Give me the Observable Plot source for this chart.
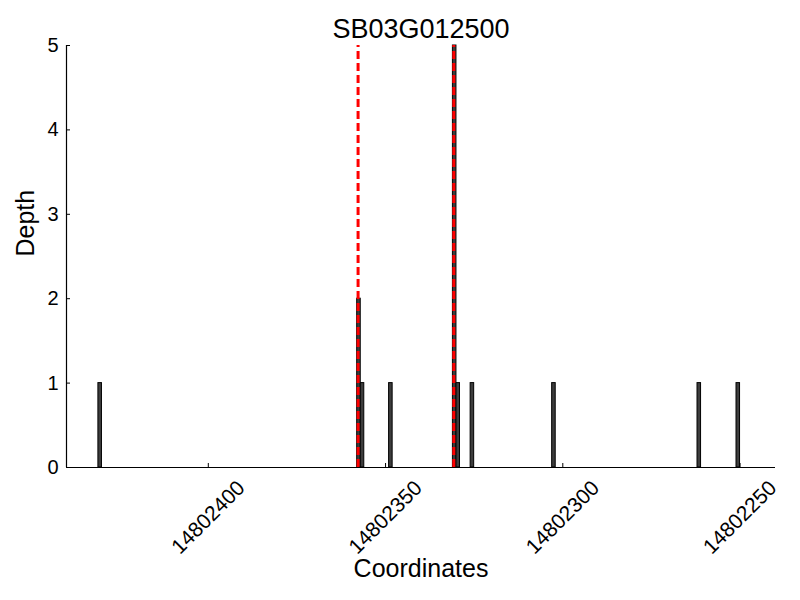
<!DOCTYPE html>
<html>
<head>
<meta charset="utf-8">
<script src="https://cdn.jsdelivr.net/npm/d3@7"></script>
<script src="https://cdn.jsdelivr.net/npm/@observablehq/plot@0.6"></script>
<style>
  html, body { margin: 0; padding: 0; background: #fff; }
  #chart svg { display: block; }
</style>
</head>
<body>
<div id="chart"></div>
<script>
// Data
const title = "SB03G012500";
const positions = [14802430, 14802357, 14802356, 14802348, 14802330, 14802329, 14802325, 14802302, 14802261, 14802250];
const depths    = [1, 2, 1, 1, 5, 1, 1, 1, 1, 1];
const geneBounds = [14802357.75, 14802330.75];
const xTicks = [14802400, 14802350, 14802300, 14802250];
const yTicks = [0, 1, 2, 3, 4, 5];
const xDomain = [14802440, 14802240];
const yDomain = [0, 5];

const bars = positions.map((p, i) => ({start: p, end: p + 1, depth: depths[i]}));
const font = "'Liberation Sans', Arial, Helvetica, sans-serif";

const chart = Plot.plot({
  width: 800,
  height: 600,
  marginLeft: 66,
  marginRight: 25,
  marginTop: 45,
  marginBottom: 133,
  style: {fontFamily: font, fontSize: "20px", color: "black", background: "white", overflow: "visible"},
  x: {domain: xDomain, ticks: xTicks},
  y: {domain: yDomain, ticks: yTicks},
  marks: [
    Plot.rectY(bars, {x1: "start", x2: "end", y: "depth", fill: "#3d3d3d", stroke: "black", strokeWidth: 1}),
    Plot.ruleX(geneBounds, {y1: yDomain[0], y2: yDomain[1], stroke: "red", strokeWidth: 3, strokeDasharray: "8,4"}),
    Plot.ruleY([yDomain[0]], {stroke: "black", strokeWidth: 1.2}),
    Plot.ruleX([xDomain[0]], {stroke: "black", strokeWidth: 1.2}),
    Plot.axisX(xTicks, {tickSize: -4, tickFormat: null, text: null, label: null}),
    Plot.axisY(yTicks, {tickSize: -4, tickFormat: null, text: null, label: null}),
    Plot.text(xTicks, {x: d => d, frameAnchor: "bottom", lineAnchor: "middle", rotate: -45, textAnchor: "end", dx: 33, dy: 17, fontSize: 21, text: d => String(d)}),
    Plot.axisY(yTicks, {tickSize: 0, tickPadding: 8, fontSize: 20, label: null, tickFormat: d => String(d)}),
    Plot.text([title], {frameAnchor: "top", lineAnchor: "middle", dy: -16, fontSize: 27, text: d => d}),
    Plot.text(["Coordinates"], {frameAnchor: "bottom", lineAnchor: "middle", dy: 101, fontSize: 25, text: d => d}),
    Plot.text(["Depth"], {frameAnchor: "left", dx: -41, rotate: -90, fontSize: 25, text: d => d})
  ]
});
document.getElementById("chart").appendChild(chart);
</script>
</body>
</html>
